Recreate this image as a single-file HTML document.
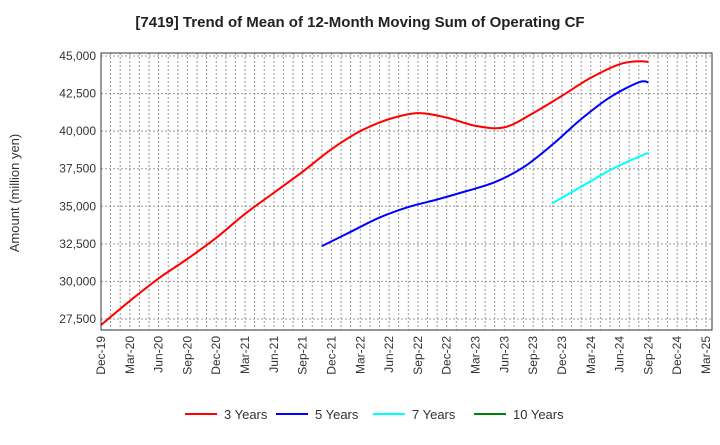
<!DOCTYPE html>
<html><head><meta charset="utf-8"><style>
body{margin:0;background:#fff;font-family:"Liberation Sans",sans-serif}
svg text{font-family:"Liberation Sans",sans-serif}
</style></head><body>
<svg width="720" height="440" xmlns="http://www.w3.org/2000/svg" id="c">
<text x="360" y="27" text-anchor="middle" font-size="15" font-weight="bold" fill="#222">[7419]  Trend of Mean of 12-Month Moving Sum of Operating CF</text>
<text transform="translate(19,193) rotate(-90)" text-anchor="middle" font-size="13" fill="#333">Amount (million yen)</text>
<g id="grid"></g><g id="series"></g><g id="axes"></g>
<g id="legend"></g>
</svg>
<script>
const xTickLabels=["Dec-19","Mar-20","Jun-20","Sep-20","Dec-20","Mar-21","Jun-21","Sep-21","Dec-21","Mar-22","Jun-22","Sep-22","Dec-22","Mar-23","Jun-23","Sep-23","Dec-23","Mar-24","Jun-24","Sep-24","Dec-24","Mar-25"];
const yTicks=[27500,30000,32500,35000,37500,40000,42500,45000];
const seriesNames=["3 Years","5 Years","7 Years","10 Years"];
const seriesColors=["#ff0000","#0000ff","#00ffff","#008000"];
// month index from Dec-19
const m3=[0,3,6,9,12,15,18,21,24,27,30,33,36,39,42,45,48,51,54,56,57];
const v3=[27100,28700,30200,31500,32900,34500,35900,37300,38800,40000,40800,41200,40900,40350,40250,41200,42350,43550,44450,44650,44600];
const m5=[23,26,29,32,35,38,41,44,47,50,53,56,57];
const v5=[32350,33300,34250,34950,35450,36000,36600,37600,39100,40800,42250,43250,43250];
const m7=[47,50,53,56,57];
const v7=[35200,36300,37400,38300,38550];
const m10=[];const v10=[];
const L=101,R=712,T=53,B=330;
const X=i=>L+i*605/63;
const Y=v=>56+(45000-v)/2500*37.57;
const NS="http://www.w3.org/2000/svg";
function mk(t,a,p){const e=document.createElementNS(NS,t);for(const k in a)e.setAttribute(k,a[k]);p.appendChild(e);return e;}
const grid=document.getElementById('grid'),axes=document.getElementById('axes'),ser=document.getElementById('series');
for(let i=1;i<=63;i++){const g=mk('line',{x1:X(i),x2:X(i),y1:T,y2:B,stroke:'#999','stroke-dasharray':'2,2','stroke-width':1},grid);}
yTicks.forEach(v=>{const g=mk('line',{x1:L,x2:R,y1:Y(v),y2:Y(v),stroke:'#999','stroke-dasharray':'2,2'},grid);
const t=mk('text',{x:L-5,y:Y(v)+4,'text-anchor':'end','font-size':12,fill:'#333'},axes);t.textContent=v.toLocaleString('en-US');});
xTickLabels.forEach((s,k)=>{const x=X(k*3);const t=mk('text',{transform:`translate(${x+4},${B+6}) rotate(-90)`,'text-anchor':'end','font-size':12,fill:'#333'},axes);t.textContent=s;});
const f=mk('rect',{x:L,y:T,width:R-L,height:B-T,fill:'none',stroke:'#333','stroke-width':1},axes);
function path(ms,vs){if(!ms.length)return'';const p=ms.map((m,i)=>[X(m),Y(vs[i])]);let d=`M${p[0][0]},${p[0][1]}`;for(let i=0;i<p.length-1;i++){const p0=p[i-1]||p[i],p1=p[i],p2=p[i+1],p3=p[i+2]||p2;d+=` C${p1[0]+(p2[0]-p0[0])/6},${p1[1]+(p2[1]-p0[1])/6} ${p2[0]-(p3[0]-p1[0])/6},${p2[1]-(p3[1]-p1[1])/6} ${p2[0]},${p2[1]}`;}return d;}
[[m3,v3],[m5,v5],[m7,v7],[m10,v10]].forEach((s,k)=>{if(!s[0].length)return;const e=mk('path',{d:path(s[0],s[1]),fill:'none',stroke:seriesColors[k],'stroke-width':2},ser);});
const lg=document.getElementById('legend');const lx=[185,276,373,474];
seriesNames.forEach((n,k)=>{const l=mk('line',{x1:lx[k],x2:lx[k]+32,y1:414,y2:414,stroke:seriesColors[k],'stroke-width':2},lg);
const t=mk('text',{x:lx[k]+39,y:419,'font-size':13,fill:'#333'},lg);t.textContent=n;});
</script>
</body></html>
